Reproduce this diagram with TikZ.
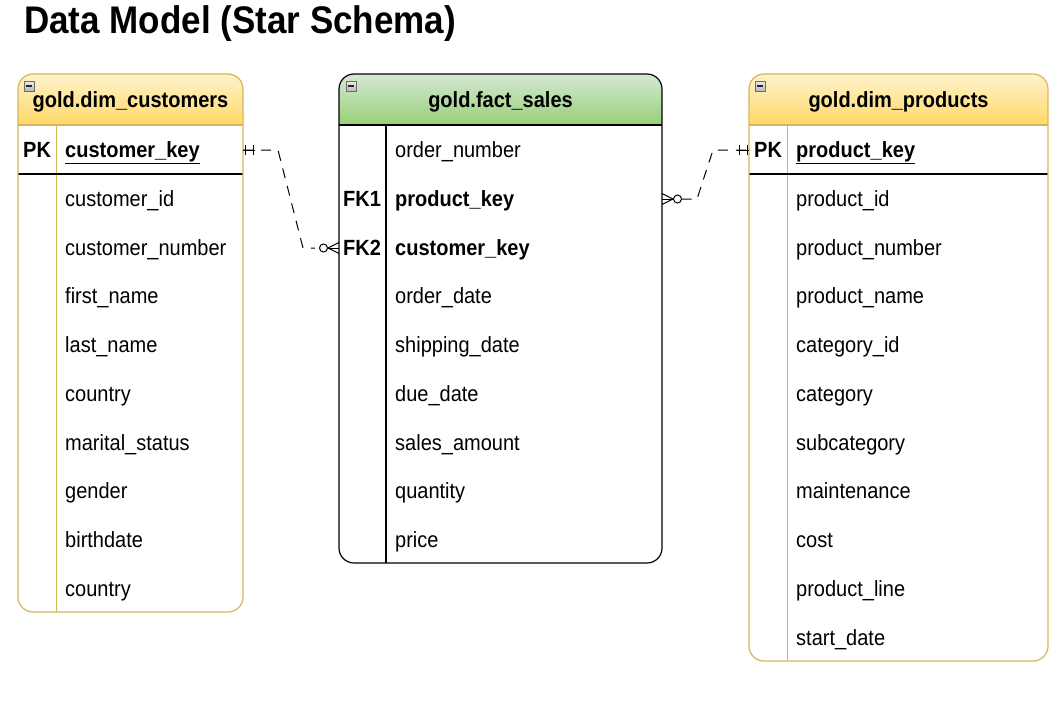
\documentclass[tikz,border=0pt]{standalone}
\usepackage{fontspec}
\usepackage{graphicx}
\setmainfont{Liberation Sans}
\definecolor{yStroke}{HTML}{D6B656}
\definecolor{yTop}{HTML}{FFF2CC}
\definecolor{yBot}{HTML}{FFD966}
\definecolor{gTop}{HTML}{D5E8D4}
\definecolor{gBot}{HTML}{97D077}
\newcommand{\vs}[1]{\scalebox{1}[1.1]{#1}}
\tikzset{
  fld/.style={anchor=base west, inner sep=0pt, font=\fontsize{20}{24}\selectfont},
  keyfld/.style={anchor=base west, inner sep=0pt, font=\fontsize{20}{24}\selectfont\bfseries},
  hdr/.style={anchor=base, inner sep=0pt, font=\fontsize{20}{24}\selectfont\bfseries},
  ttl/.style={anchor=base west, inner sep=0pt, font=\fontsize{35}{40}\selectfont\bfseries},
  ybox/.style={draw=yStroke, line width=1.2pt, rounded corners=15pt},
  gbox/.style={draw=black, line width=1.2pt, rounded corners=15pt},
  icon/.style={draw=gray!85!black, line width=0.6pt, top color=gray!15, bottom color=gray!55},
  rel/.style={draw=black, line width=1pt, dash pattern=on 10pt off 8pt},
  ermark/.style={draw=black, line width=1pt},
}
\begin{document}
\begin{tikzpicture}[x=1pt,y=-1pt]
\useasboundingbox (0,0) rectangle (1057,712);
\fill[white] (0,0) rectangle (1057,712);
\node[ttl] (title) at (24,33.5) {\vs{Data Model (Star Schema)}};

% ---------------- dim_customers ----------------
\begin{scope}
  \clip[rounded corners=15pt] (18,74) rectangle (243,612);
  \shade[top color=yTop, bottom color=yBot] (18,74) rectangle (243,125);
\end{scope}
\draw[yStroke, line width=1.2pt] (18,125) -- (243,125);
\draw[yStroke, line width=1pt] (56,125) -- (56,612);
\draw[black, line width=1.5pt] (18,174) -- (243,174);
\draw[ybox] (18,74) rectangle (243,612);
\shade[icon] (24,81) rectangle (34,91);
\draw[gray!30!black, line width=1.2pt] (26,86) -- (32,86);
\node[hdr] (hc) at (130.5,107.5) {\vs{gold.dim\_customers}};
\node[keyfld] (cpkl) at (23,157.5) {\vs{PK}};
\node[keyfld] (cpk) at (65,157.5) {\vs{\underline{customer\_key}}};
\foreach \t [count=\i] in {customer\_id,customer\_number,first\_name,last\_name,country,marital\_status,gender,birthdate,country}
  \node[fld] (c\i) at (65,{157.5+48.75*\i}) {\vs{\t}};

% ---------------- fact_sales ----------------
\begin{scope}
  \clip[rounded corners=15pt] (339,74) rectangle (662,563);
  \shade[top color=gTop, bottom color=gBot] (339,74) rectangle (662,125);
\end{scope}
\draw[black, line width=1.2pt] (339,125) -- (662,125);
\draw[black, line width=1.5pt] (386,125) -- (386,563);
\draw[gbox] (339,74) rectangle (662,563);
\shade[icon] (346,81) rectangle (356,91);
\draw[gray!30!black, line width=1.2pt] (348,86) -- (354,86);
\node[hdr] (hf) at (500.5,107.5) {\vs{gold.fact\_sales}};
\node[fld] (f0) at (395,157.5) {\vs{order\_number}};
\node[keyfld] (fk1l) at (343,206.25) {\vs{FK1}};
\node[keyfld] (f1) at (395,206.25) {\vs{product\_key}};
\node[keyfld] (fk2l) at (343,255) {\vs{FK2}};
\node[keyfld] (f2) at (395,255) {\vs{customer\_key}};
\foreach \t [count=\i from 3] in {order\_date,shipping\_date,due\_date,sales\_amount,quantity,price}
  \node[fld] (f\i) at (395,{157.5+48.75*\i}) {\vs{\t}};

% ---------------- dim_products ----------------
\begin{scope}
  \clip[rounded corners=15pt] (749,74) rectangle (1048,661);
  \shade[top color=yTop, bottom color=yBot] (749,74) rectangle (1048,125);
\end{scope}
\draw[yStroke, line width=1.2pt] (749,125) -- (1048,125);
\draw[yStroke, line width=1pt] (787,125) -- (787,661);
\draw[black, line width=1.5pt] (749,174) -- (1048,174);
\draw[ybox] (749,74) rectangle (1048,661);
\shade[icon] (755,81) rectangle (765,91);
\draw[gray!30!black, line width=1.2pt] (757,86) -- (763,86);
\node[hdr] (hp) at (898.5,107.5) {\vs{gold.dim\_products}};
\node[keyfld] (ppkl) at (754,157.5) {\vs{PK}};
\node[keyfld] (ppk) at (796,157.5) {\vs{\underline{product\_key}}};
\foreach \t [count=\i] in {product\_id,product\_number,product\_name,category\_id,category,subcategory,maintenance,cost,product\_line,start\_date}
  \node[fld] (p\i) at (796,{157.5+48.75*\i}) {\vs{\t}};

% ---------------- connectors ----------------
\coordinate (custOut) at (243,150);
\coordinate (custBend1) at (278,150);
\coordinate (custBend2) at (303,248);
\coordinate (factCustIn) at (339,248);
\coordinate (factProdOut) at (662,199);
\coordinate (prodBend1) at (697,199);
\coordinate (prodBend2) at (713,150);
\coordinate (prodIn) at (749,150);

% customers -> fact
\draw[rel] (custOut) -- (custBend1) -- (custBend2) -- ([xshift=-24pt]factCustIn);
\draw[ermark] (custOut) -- ++(12,0);
\draw[ermark] ([xshift=2pt]custOut) ++(0,-5) -- ++(0,10);
\draw[ermark] ([xshift=10pt]custOut) ++(0,-5) -- ++(0,10);
\draw[ermark] ([xshift=-11pt]factCustIn) -- (factCustIn);
\draw[ermark] ([xshift=-11pt]factCustIn) -- ([yshift=-5.5pt]factCustIn);
\draw[ermark] ([xshift=-11pt]factCustIn) -- ([yshift=5.5pt]factCustIn);
\draw[ermark, fill=white] ([xshift=-15.5pt]factCustIn) circle[radius=4pt];

% fact -> products
\draw[rel] ([xshift=19.5pt]factProdOut) -- (prodBend1) -- (prodBend2) -- (prodIn);
\draw[ermark] (factProdOut) -- ++(11,0);
\draw[ermark] ([xshift=11pt]factProdOut) -- ([yshift=-5.5pt]factProdOut);
\draw[ermark] ([xshift=11pt]factProdOut) -- ([yshift=5.5pt]factProdOut);
\draw[ermark, fill=white] ([xshift=15.5pt]factProdOut) circle[radius=4pt];
\draw[ermark] (prodIn) -- ++(-12,0);
\draw[ermark] ([xshift=-2pt]prodIn) ++(0,-5) -- ++(0,10);
\draw[ermark] ([xshift=-10pt]prodIn) ++(0,-5) -- ++(0,10);
\end{tikzpicture}
\end{document}
